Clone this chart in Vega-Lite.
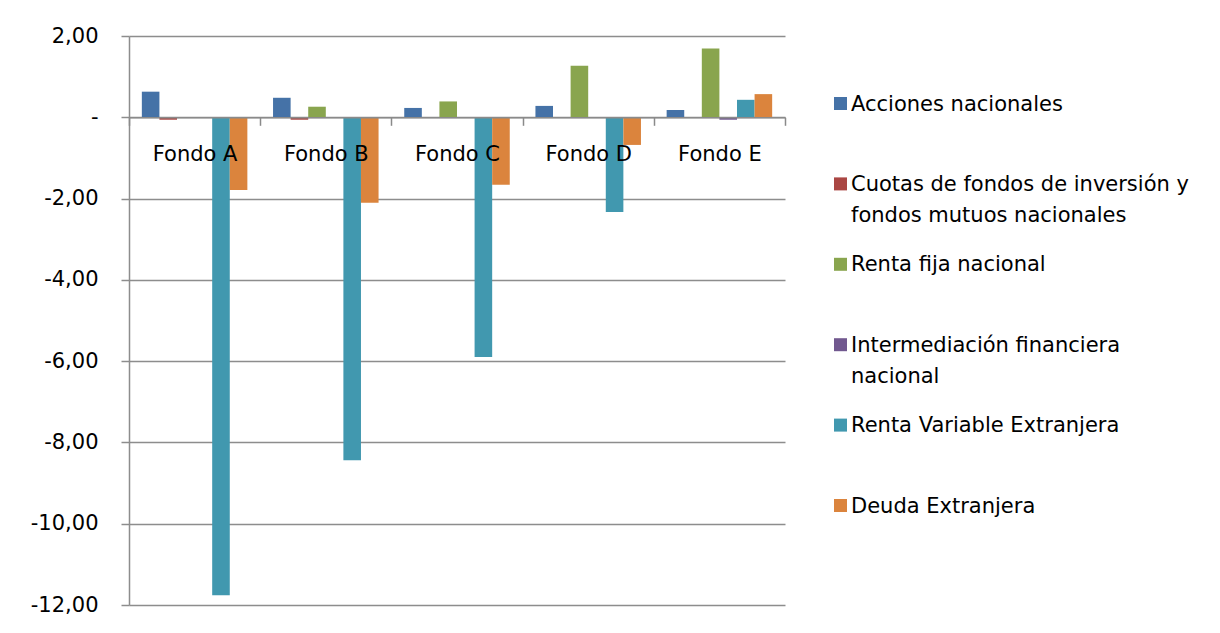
{
  "$schema": "https://vega.github.io/schema/vega-lite/v6.json",
  "width": 656,
  "height": 569,
  "padding": {"left": 30, "top": 25, "right": 0, "bottom": 0},
  "background": "white",
  "config": {"view": {"stroke": null}, "font": "DejaVu Sans"},
  "data": {
    "values": [
      {"fondo": "Fondo A", "serie": "Acciones nacionales", "valor": 0.63},
      {"fondo": "Fondo A", "serie": "Cuotas de fondos de inversión y fondos mutuos nacionales", "valor": -0.06},
      {"fondo": "Fondo A", "serie": "Renta fija nacional", "valor": 0},
      {"fondo": "Fondo A", "serie": "Intermediación financiera nacional", "valor": 0},
      {"fondo": "Fondo A", "serie": "Renta Variable Extranjera", "valor": -11.76},
      {"fondo": "Fondo A", "serie": "Deuda Extranjera", "valor": -1.79},
      {"fondo": "Fondo B", "serie": "Acciones nacionales", "valor": 0.48},
      {"fondo": "Fondo B", "serie": "Cuotas de fondos de inversión y fondos mutuos nacionales", "valor": -0.06},
      {"fondo": "Fondo B", "serie": "Renta fija nacional", "valor": 0.26},
      {"fondo": "Fondo B", "serie": "Intermediación financiera nacional", "valor": 0},
      {"fondo": "Fondo B", "serie": "Renta Variable Extranjera", "valor": -8.44},
      {"fondo": "Fondo B", "serie": "Deuda Extranjera", "valor": -2.1},
      {"fondo": "Fondo C", "serie": "Acciones nacionales", "valor": 0.23},
      {"fondo": "Fondo C", "serie": "Cuotas de fondos de inversión y fondos mutuos nacionales", "valor": 0},
      {"fondo": "Fondo C", "serie": "Renta fija nacional", "valor": 0.39},
      {"fondo": "Fondo C", "serie": "Intermediación financiera nacional", "valor": 0},
      {"fondo": "Fondo C", "serie": "Renta Variable Extranjera", "valor": -5.9},
      {"fondo": "Fondo C", "serie": "Deuda Extranjera", "valor": -1.66},
      {"fondo": "Fondo D", "serie": "Acciones nacionales", "valor": 0.28},
      {"fondo": "Fondo D", "serie": "Cuotas de fondos de inversión y fondos mutuos nacionales", "valor": 0},
      {"fondo": "Fondo D", "serie": "Renta fija nacional", "valor": 1.27},
      {"fondo": "Fondo D", "serie": "Intermediación financiera nacional", "valor": 0},
      {"fondo": "Fondo D", "serie": "Renta Variable Extranjera", "valor": -2.33},
      {"fondo": "Fondo D", "serie": "Deuda Extranjera", "valor": -0.68},
      {"fondo": "Fondo E", "serie": "Acciones nacionales", "valor": 0.18},
      {"fondo": "Fondo E", "serie": "Cuotas de fondos de inversión y fondos mutuos nacionales", "valor": 0},
      {"fondo": "Fondo E", "serie": "Renta fija nacional", "valor": 1.69},
      {"fondo": "Fondo E", "serie": "Intermediación financiera nacional", "valor": -0.06},
      {"fondo": "Fondo E", "serie": "Renta Variable Extranjera", "valor": 0.43},
      {"fondo": "Fondo E", "serie": "Deuda Extranjera", "valor": 0.57}
    ]
  },
  "mark": {"type": "bar"},
  "encoding": {
    "x": {
      "field": "fondo",
      "type": "nominal",
      "scale": {"paddingInner": 0, "paddingOuter": 0},
      "axis": {
        "title": null,
        "labelAngle": 0,
        "offset": -487.7,
        "zindex": 1,
        "tickBand": "extent",
        "tickSize": 8,
        "tickColor": "#8a8a8a",
        "tickWidth": 1.5,
        "domainColor": "#8a8a8a",
        "domainWidth": 1.5,
        "labelPadding": 18,
        "labelFont": "DejaVu Sans",
        "labelFontSize": 21,
        "labelColor": "#000000",
        "labelBaseline": "top"
      }
    },
    "xOffset": {
      "field": "serie",
      "type": "nominal",
      "sort": ["Acciones nacionales", "Cuotas de fondos de inversión y fondos mutuos nacionales", "Renta fija nacional", "Intermediación financiera nacional", "Renta Variable Extranjera", "Deuda Extranjera"],
      "scale": {"paddingInner": 0, "paddingOuter": 0.73}
    },
    "y": {
      "field": "valor",
      "type": "quantitative",
      "scale": {"domain": [-12, 2], "nice": false, "zero": false},
      "axis": {
        "title": null,
        "values": [-12, -10, -8, -6, -4, -2, 0, 2],
        "labelExpr": "datum.value == 0 ? '-' : (datum.value < 0 ? '-' : '') + replace(format(abs(datum.value), '.2f'), '.', ',')",
        "grid": true,
        "gridColor": "#8d8d8d",
        "gridWidth": 1.5,
        "domainColor": "#8d8d8d",
        "domainWidth": 1.5,
        "tickColor": "#8d8d8d",
        "tickWidth": 1.5,
        "tickSize": 8,
        "labelPadding": 23,
        "labelFont": "DejaVu Sans",
        "labelFontSize": 21,
        "labelColor": "#000000"
      }
    },
    "color": {
      "field": "serie",
      "type": "nominal",
      "scale": {
        "domain": ["Acciones nacionales", "Cuotas de fondos de inversión y fondos mutuos nacionales", "Renta fija nacional", "Intermediación financiera nacional", "Renta Variable Extranjera", "Deuda Extranjera"],
        "range": ["#4572A7", "#AA4643", "#89A54E", "#71588F", "#4198AF", "#DB843D"]
      },
      "legend": {
        "title": null,
        "orient": "none",
        "legendX": 701,
        "legendY": 57,
        "padding": 0,
        "symbolType": "square",
        "symbolSize": 169,
        "symbolStrokeWidth": 0,
        "labelOffset": 0,
        "labelFont": "DejaVu Sans",
        "labelFontSize": 21,
        "labelColor": "#000000",
        "labelLimit": 500,
        "labelBaseline": "top",
        "rowPadding": 27.4,
        "labelExpr": "datum.label == 'Cuotas de fondos de inversión y fondos mutuos nacionales' ? ['Cuotas de fondos de inversión y', 'fondos mutuos nacionales'] : datum.label == 'Intermediación financiera nacional' ? ['Intermediación financiera', 'nacional'] : [datum.label, ' ']",
        "encode": {
          "labels": {"update": {"dy": {"value": -10}, "lineHeight": {"value": 31}}}
        }
      }
    }
  }
}
